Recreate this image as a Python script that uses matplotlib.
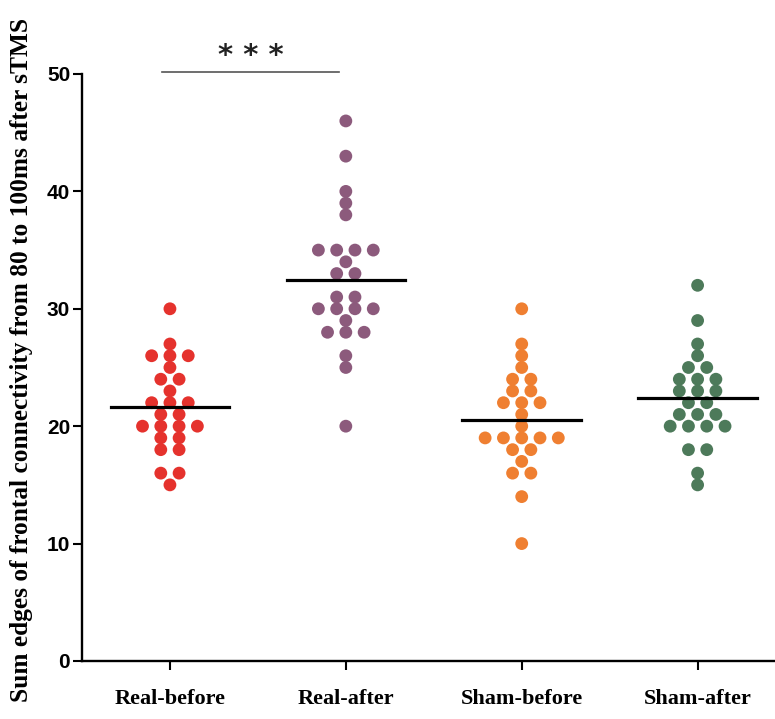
import numpy as np
import matplotlib.pyplot as plt

# group names and the dot values
groups = ['Real-before', 'Real-after', 'Sham-before', 'Sham-after']
colors = ['#e5322d', '#8c5a7c', '#ef7f31', '#4d7a5a']

real_before = [30, 27, 26, 26, 26, 25, 24, 24, 23, 22, 22, 22, 21, 21,
               20, 20, 20, 20, 19, 19, 18, 18, 16, 16, 15]
real_after = [46, 43, 40, 39, 38, 35, 35, 35, 35, 34, 33, 33, 31, 31,
              30, 30, 30, 30, 29, 28, 28, 28, 26, 25, 20]
sham_before = [30, 27, 26, 25, 24, 24, 23, 23, 22, 22, 22, 21, 20,
               19, 19, 19, 19, 19, 18, 18, 17, 16, 16, 14, 10]
sham_after = [32, 29, 27, 26, 25, 25, 24, 24, 24, 23, 23, 23, 22, 22,
              21, 21, 21, 20, 20, 20, 20, 18, 18, 16, 15]
all_data = [real_before, real_after, sham_before, sham_after]

fig = plt.figure(figsize=(7.75, 7.19), dpi=100)
ax = fig.add_axes([0.1058, 0.0807, 0.8942, 0.8164])

step = 0.104  # horizontal spacing between dots in a row (group units)

for i in range(len(groups)):
    vals = np.array(all_data[i])
    xs = []
    ys = []
    # dots with the same value sit in one row, centred on the group
    for v in np.unique(vals):
        n = np.sum(vals == v)
        for k in range(n):
            xs.append(i + (k - (n - 1) / 2) * step)
            ys.append(v)
    ax.scatter(xs, ys, s=85, color=colors[i], edgecolors='none', zorder=3)
    m = vals.mean()
    ax.plot([i - 0.337, i + 0.337], [m, m], color='black', lw=2.3, zorder=4)

# significance bar
ax.plot([-0.047, 0.963], [50.2, 50.2], color='#555555', lw=1.2, clip_on=False)
ax.text(0.459, 51.5, '* * *', ha='center', va='center', fontsize=21,
        fontweight='bold', family='DejaVu Sans', color='#222222')

ax.set_xlim(-0.5, 3.44)
ax.set_ylim(0, 50)
ax.set_yticks([0, 10, 20, 30, 40, 50])
ax.set_xticks(range(len(groups)))
ax.set_xticklabels(groups, family='Liberation Serif', fontweight='bold', fontsize=16)
for lab in ax.get_yticklabels():
    lab.set_family('Liberation Sans')
    lab.set_fontweight('bold')
    lab.set_fontsize(15)

ax.spines['top'].set_visible(False)
ax.spines['right'].set_visible(False)
ax.spines['left'].set_linewidth(1.7)
ax.spines['bottom'].set_linewidth(1.7)
ax.tick_params(axis='y', length=6.5, width=1.5, pad=2)
ax.tick_params(axis='x', length=6.5, width=1.5, pad=14)

ax.set_ylabel('Sum edges of frontal connectivity from 80 to 100ms after sTMS',
              family='Liberation Serif', fontweight='bold', fontsize=18.3)
ax.yaxis.set_label_coords(-0.07, 0.513)

fig.savefig('out.png', dpi=100)
